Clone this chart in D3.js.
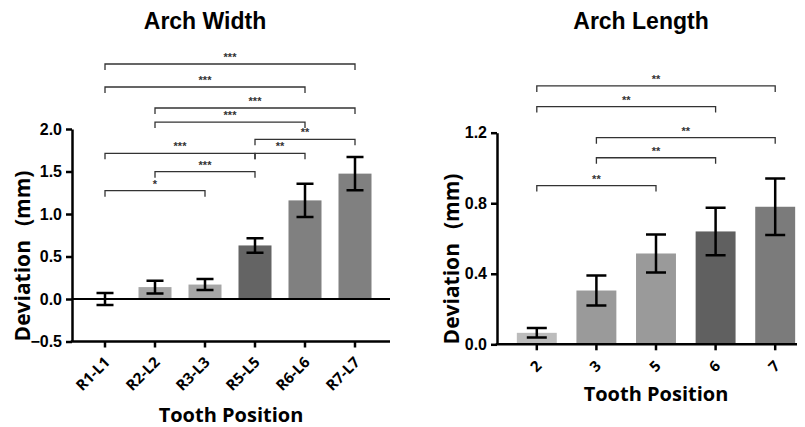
<!DOCTYPE html>
<html lang="en">
<head>
<meta charset="utf-8">
<title>Arch Width / Arch Length</title>
<style>
  body { margin: 0; background: #fff; }
  svg { display: block; }
  .title { font: bold 23px "Liberation Sans", Arial, sans-serif; text-anchor: middle; }
  .axlab { font: bold 20px "Open Sans", sans-serif; text-anchor: middle; }
  .ylab { font: bold 21px "Open Sans", sans-serif; text-anchor: middle; white-space: pre; }
  .ytick text { font: bold 16px "Liberation Sans", Arial, sans-serif; fill: #000; }
  .xtick text { font: bold 15px "Open Sans", sans-serif; fill: #000; }
  .ytick path, .ytick line, .xtick line { stroke: #000; stroke-width: 2.5px; }
  .err { stroke: #000; stroke-width: 2.5px; fill: none; }
  .brk { stroke: #333; stroke-width: 1.3px; fill: none; }
  .star { font: bold 11px "Liberation Sans", Arial, sans-serif; fill: #333; text-anchor: middle; }
</style>
</head>
<body>
<svg width="805" height="427"></svg>
<script src="https://d3js.org/d3.v7.min.js"></script>
<script>

// ---- Arch Width data
var widthCats = ["R1-L1", "R2-L2", "R3-L3", "R5-L5", "R6-L6", "R7-L7"];
var widthMean = [0.0, 0.14, 0.17, 0.63, 1.16, 1.475];
var widthErr  = [0.07, 0.075, 0.065, 0.085, 0.195, 0.195];
var widthColor = ["#a6a6a6", "#a6a6a6", "#a6a6a6", "#646464", "#808080", "#808080"];
var widthTicks = [-0.5, 0.0, 0.5, 1.0, 1.5, 2.0];
// [from, to, level (mm), label]
var widthBrackets = [
  ["R1-L1", "R7-L7", 2.765, "***"],
  ["R1-L1", "R6-L6", 2.494, "***"],
  ["R2-L2", "R7-L7", 2.247, "***"],
  ["R2-L2", "R6-L6", 2.082, "***"],
  ["R5-L5", "R7-L7", 1.879, "**"],
  ["R1-L1", "R5-L5", 1.714, "***"],
  ["R5-L5", "R6-L6", 1.714, "**"],
  ["R2-L2", "R5-L5", 1.498, "***"],
  ["R1-L1", "R3-L3", 1.274, "*"]
];

// ---- Arch Length data
var lengthCats = ["2", "3", "5", "6", "7"];
var lengthMean = [0.065, 0.305, 0.515, 0.64, 0.78];
var lengthErr  = [0.027, 0.085, 0.108, 0.135, 0.16];
var lengthColor = ["#bcbcbc", "#9a9a9a", "#9a9a9a", "#606060", "#7b7b7b"];
var lengthTicks = [0.0, 0.4, 0.8, 1.2];
var lengthBrackets = [
  ["2", "7", 1.465, "**"],
  ["2", "6", 1.348, "**"],
  ["3", "7", 1.172, "**"],
  ["3", "6", 1.058, "**"],
  ["2", "5", 0.9, "**"]
];

var svg = d3.select("svg");

function drawPanel(o) {
  var g = svg.append("g");

  var x = d3.scaleBand().domain(o.cats).range(o.xRange)
            .paddingInner(o.pad).paddingOuter(o.pad / 2);
  var y = d3.scaleLinear().domain(o.yDomain).range(o.yRange);
  var bw = x.bandwidth();
  var data = o.cats.map(function(c, i) {
    return {cat: c, mean: o.mean[i], err: o.err[i], color: o.color[i]};
  });

  // bars
  g.selectAll("rect.bar")
   .data(data).enter().append("rect")
   .attr("class", "bar")
   .attr("x", function(d) { return x(d.cat); })
   .attr("width", bw)
   .attr("y", function(d) { return y(Math.max(0, d.mean)); })
   .attr("height", function(d) { return Math.abs(y(d.mean) - y(0)); })
   .attr("fill", function(d) { return d.color; });

  // zero line (left panel)
  if (o.zeroLine) {
    g.append("line")
     .attr("x1", o.axisX).attr("x2", o.axisEnd)
     .attr("y1", y(0)).attr("y2", y(0))
     .attr("stroke", "#000").attr("stroke-width", 2);
  }

  // error bars
  var eb = g.selectAll("g.eb").data(data).enter().append("g").attr("class", "eb");
  eb.append("path")
    .attr("class", "err")
    .attr("d", function(d) {
      var cx = x(d.cat) + bw / 2, h = o.cap / 2;
      var t = y(d.mean + d.err), b = y(d.mean - d.err);
      return "M" + (cx - h) + "," + t + "H" + (cx + h) +
             "M" + cx + "," + t + "V" + b +
             "M" + (cx - h) + "," + b + "H" + (cx + h);
    });

  // y axis
  var yAxis = d3.axisLeft(y).tickValues(o.ticks).tickFormat(d3.format(".1f"))
                .tickSize(6).tickSizeOuter(0).tickPadding(4);
  var ya = g.append("g").attr("class", "ytick")
            .attr("transform", "translate(" + o.axisX + ",0)")
            .call(yAxis);
  ya.select(".domain").attr("stroke-width", 2.5);

  // x axis
  var xAxis = d3.axisBottom(x).tickSize(6).tickSizeOuter(0);
  var baseY = y(o.yDomain[0]);
  var xa = g.append("g").attr("class", "xtick")
            .attr("transform", "translate(0," + baseY + ")")
            .call(xAxis);
  xa.select(".domain").remove();
  xa.selectAll("text")
    .attr("text-anchor", "end")
    .attr("dy", "0.35em")
    .attr("transform", "translate(" + o.lblDx + "," + o.lblDy + ") rotate(-45)")
    .attr("y", 0).attr("x", 0);
  g.append("line")
   .attr("x1", o.axisX - 1.25).attr("x2", o.axisEnd)
   .attr("y1", baseY).attr("y2", baseY)
   .attr("stroke", "#000").attr("stroke-width", 2.5);

  // significance brackets
  var bk = g.selectAll("g.bk").data(o.brackets).enter().append("g").attr("class", "bk");
  bk.append("path")
    .attr("class", "brk")
    .attr("d", function(d) {
      var x1 = x(d[0]) + bw / 2, x2 = x(d[1]) + bw / 2, yy = y(d[2]);
      return "M" + x1 + "," + (yy + 6) + "V" + yy + "H" + x2 + "V" + (yy + 6);
    });
  bk.append("text")
    .attr("class", "star")
    .attr("x", function(d) { return (x(d[0]) + x(d[1])) / 2 + bw / 2; })
    .attr("y", function(d) { return y(d[2]) - 3; })
    .text(function(d) { return d[3]; });

  // titles
  svg.append("text").attr("class", "title")
     .attr("x", o.titleX).attr("y", 29).text(o.title);
  svg.append("text").attr("class", "axlab")
     .attr("x", o.xlabX).attr("y", o.xlabY).text("Tooth Position");
  svg.append("text").attr("class", "ylab")
     .attr("transform", "translate(" + o.ylabX + "," + o.ylabY + ") rotate(-90)")
     .attr("dy", "0.35em")
     .text("Deviation\u2002\u2009(mm)");
}

drawPanel({
  cats: widthCats, mean: widthMean, err: widthErr, color: widthColor,
  ticks: widthTicks, brackets: widthBrackets,
  xRange: [80, 380], pad: 0.34, yDomain: [-0.5, 2.0], yRange: [341.5, 129],
  axisX: 72, axisEnd: 390, cap: 17, zeroLine: true,
  lblDx: 2, lblDy: 18,
  title: "Arch Width", titleX: 205, xlabX: 231, xlabY: 422, ylabX: 23, ylabY: 256
});

drawPanel({
  cats: lengthCats, mean: lengthMean, err: lengthErr, color: lengthColor,
  ticks: lengthTicks, brackets: lengthBrackets,
  xRange: [507, 805], pad: 0.33, yDomain: [0, 1.2], yRange: [344.3, 132.7],
  axisX: 497, axisEnd: 797, cap: 20, zeroLine: false,
  lblDx: 2, lblDy: 19,
  title: "Arch Length", titleX: 641, xlabX: 656, xlabY: 401, ylabX: 452, ylabY: 259
});

</script>
</body>
</html>
